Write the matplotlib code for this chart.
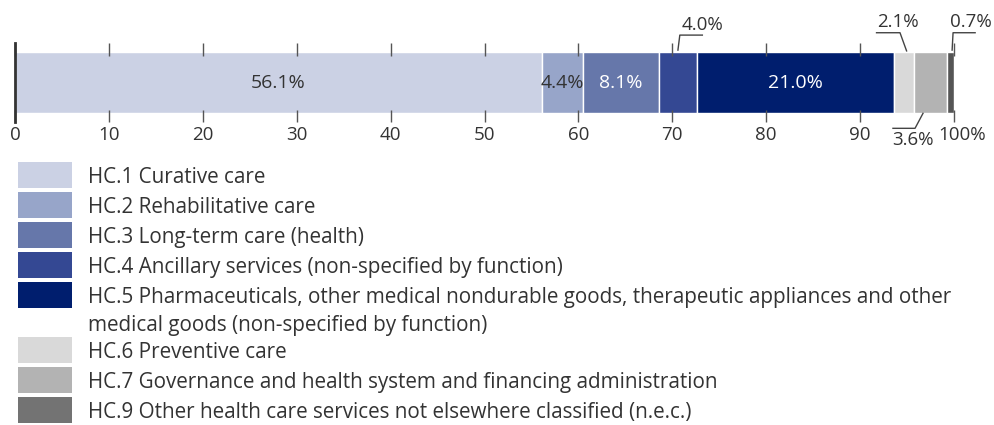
import matplotlib
matplotlib.use("Agg")
import matplotlib.pyplot as plt
from matplotlib.patches import Rectangle
from matplotlib.transforms import ScaledTranslation
import numpy as np

plt.rcParams['font.family'] = ['Open Sans', 'DejaVu Sans']

# data
codes = ["HC.1", "HC.2", "HC.3", "HC.4", "HC.5", "HC.6", "HC.7", "HC.9"]
names = ["Curative care",
         "Rehabilitative care",
         "Long-term care (health)",
         "Ancillary services (non-specified by function)",
         "Pharmaceuticals, other medical nondurable goods, therapeutic appliances and other\nmedical goods (non-specified by function)",
         "Preventive care",
         "Governance and health system and financing administration",
         "Other health care services not elsewhere classified (n.e.c.)"]
shares = [56.1, 4.4, 8.1, 4.0, 21.0, 2.1, 3.6, 0.7]
colors = ["#cbd1e4", "#97a5c9", "#6677aa", "#344893", "#001e6e", "#d9d9d9", "#b3b3b3", "#555555"]
legend_colors = colors[:7] + ["#737373"]
ticks = [0, 10, 20, 30, 40, 50, 60, 70, 80, 90, 100]

W, H = 994, 425
fig = plt.figure(figsize=(W / 100, H / 100), dpi=100)
txt = "#333333"

# main bar axes (pixel box: x 15..954, y 43..122)
ax = fig.add_axes([15 / W, 1 - 122 / H, 939 / W, 79 / H])
lefts = np.concatenate([[0], np.cumsum(shares)[:-1]])
ax.barh(0.5, shares, left=lefts, height=0.76, color=colors, edgecolor="white", linewidth=1)
ax.set_xlim(0, 100)
ax.set_ylim(0, 1)
ax.set_yticks([])
for s in ["top", "right", "bottom"]:
    ax.spines[s].set_visible(False)
ax.spines["left"].set_color("#333333")
ax.spines["left"].set_linewidth(2)
ax.set_xticks(ticks)
ax.set_xticklabels([str(t) for t in ticks[:-1]] + ["100%"], fontsize=13.5, color=txt)
ax.tick_params(axis="x", direction="in", length=9, width=1, color="#555555",
               top=True, bottom=True, pad=3)
lab = ax.get_xticklabels()[-1]
lab.set_transform(lab.get_transform() + ScaledTranslation(8 / 100, 0, fig.dpi_scale_trans))

centers = lefts + np.array(shares) / 2
tr = ax.get_xaxis_transform()
# labels inside the bar
inside = {0: txt, 1: txt, 2: "white", 4: "white"}
for i, c in inside.items():
    ax.text(centers[i], 0.5, f"{shares[i]:.1f}%", ha="center", va="center",
            fontsize=14, color=c)

# leader-line labels
lc = "#444444"
fs = 13.5
c = centers[3]
ax.plot([c, c + 0.2, c + 2.6], [0.91, 1.10, 1.10], color=lc, lw=1, transform=tr, clip_on=False)
ax.text(c + 0.4, 1.12, f"{shares[3]:.1f}%", ha="left", va="bottom", fontsize=fs, color=txt, transform=tr)

c = centers[5]
ax.plot([c + 0.3, c - 0.4, c - 2.9], [0.90, 1.13, 1.13], color=lc, lw=1, transform=tr, clip_on=False)
ax.text(c - 0.65, 1.15, f"{shares[5]:.1f}%", ha="center", va="bottom", fontsize=fs, color=txt, transform=tr)

c = centers[7]
ax.plot([c + 0.15, c + 0.25, c + 2.6], [0.91, 1.13, 1.13], color=lc, lw=1, transform=tr, clip_on=False)
ax.text(c - 0.1, 1.15, f"{shares[7]:.1f}%", ha="left", va="bottom", fontsize=fs, color=txt, transform=tr)

c = centers[6]
ax.plot([c - 0.8, c - 1.65, c - 4.0], [0.11, -0.08, -0.08], color=lc, lw=1, transform=tr, clip_on=False)
ax.text(c - 4.1, -0.12, f"{shares[6]:.1f}%", ha="left", va="top", fontsize=fs, color=txt, transform=tr)

# legend drawn in pixel coordinates
lax = fig.add_axes([0, 0, 1, 1])
lax.set_xlim(0, W)
lax.set_ylim(H, 0)
lax.axis("off")
y = 162
for code, name, col in zip(codes, names, legend_colors):
    lax.add_patch(Rectangle((18, y), 54, 26, facecolor=col, edgecolor="none"))
    lines = (code + " " + name).split("\n")
    for k, line in enumerate(lines):
        lax.text(88, y + 21 + 28 * k, line, fontsize=14.9, color=txt, va="baseline", ha="left")
    y += 30 + 25 * (len(lines) - 1)

fig.savefig("out.png", dpi=100)
